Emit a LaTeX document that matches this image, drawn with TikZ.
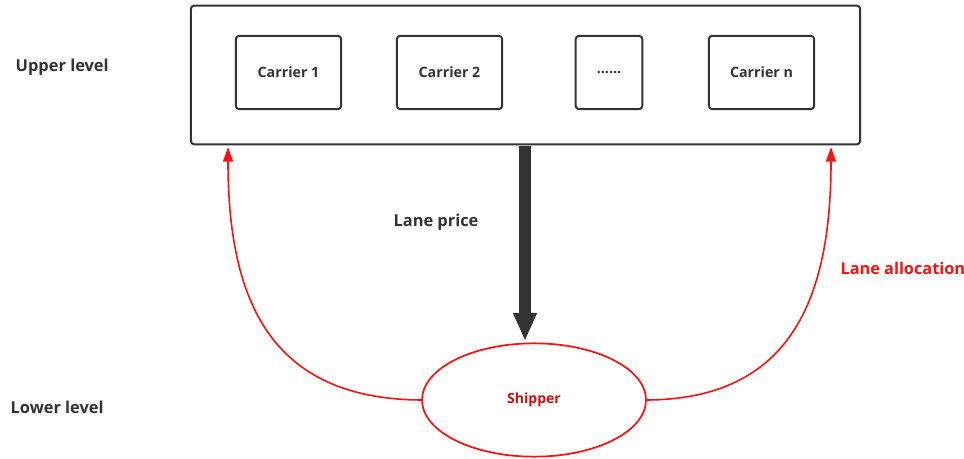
\documentclass[tikz,border=0pt]{standalone}
\usepackage{fontspec}
\setmainfont{Open Sans}
\usetikzlibrary{arrows.meta,shapes.geometric}
\definecolor{darkline}{HTML}{333333}
\definecolor{redline}{HTML}{FF1010}
\definecolor{redtext}{HTML}{CC1010}
\begin{document}
\begin{tikzpicture}[x=0.75pt,y=-0.75pt,
  carrier/.style={draw=darkline,line width=1.5pt,rounded corners=2.5pt,minimum width=79pt,minimum height=55pt,font=\bfseries\fontsize{10.7}{12}\selectfont,text=darkline},
  levellabel/.style={font=\bfseries\fontsize{12.3}{14}\selectfont,text=darkline}]
\useasboundingbox (0,0) rectangle (964,459);
% upper level
\node [draw=darkline,line width=1.5pt,rounded corners=2.5pt,minimum width=502pt,minimum height=104pt] (upper) at (525.5,75) {};
\node [carrier] (c1) at (288.5,72.5) {Carrier 1};
\node [carrier] (c2) at (449.5,72.5) {Carrier 2};
\node [carrier,minimum width=50pt] (cdots) at (609,72.5) {......};
\node [carrier] (cn) at (761.5,72.5) {Carrier n};
\node [levellabel,anchor=west] (ul) at (11,67) {Upper level};
% lower level
\node [ellipse,draw=redline,line width=1.3pt,minimum width=168pt,minimum height=85pt,font=\bfseries\fontsize{10.5}{12}\selectfont,text=redtext] (ship) at (534,400) {Shipper};
\node [levellabel,anchor=west] (ll) at (6,407) {Lower level};
% price flow
\coordinate (ptop) at (525,146);
\coordinate (pbot) at (525,341);
\draw [darkline,line width=8.3pt,-{Triangle[width=16.5pt,length=21pt]}] (ptop) -- (pbot);
\node [levellabel] (price) at (436,222) {Lane price};
% allocation flow
\coordinate (lin) at (228,147);
\coordinate (rin) at (831,147);
\draw [draw=redline,line width=1.2pt,-{Triangle[width=7.5pt,length=11pt]}] (ship.west) .. controls (270,399) and (228,300) .. (lin);
\draw [draw=redline,line width=1.2pt,-{Triangle[width=7.5pt,length=11pt]}] (ship.east) .. controls (790,399) and (831,300) .. (rin);
\node [font=\bfseries\fontsize{12.2}{14}\selectfont,text=redline,anchor=west] (alloc) at (836,268) {Lane allocation};
\end{tikzpicture}
\end{document}
